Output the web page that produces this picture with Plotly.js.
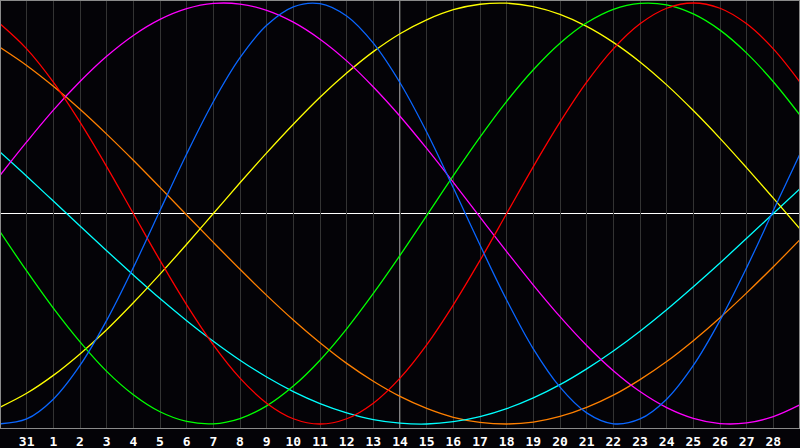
<!DOCTYPE html>
<html>
<head>
<meta charset="utf-8">
<script src="https://cdn.plot.ly/plotly-3.0.1.min.js"></script>
<style>html,body{margin:0;padding:0;background:#040307;}#chart{width:800px;height:448px;}</style>
</head>
<body>
<div id="chart"></div>
<script>
// Day index 0..30 (Jan 30 .. Mar 1)
const dayIndex = [0,1,2,3,4,5,6,7,8,9,10,11,12,13,14,15,16,17,18,19,20,21,22,23,24,25,26,27,28,29,30];
const tickPositions = [1,2,3,4,5,6,7,8,9,10,11,12,13,14,15,16,17,18,19,20,21,22,23,24,25,26,27,28,29];
const tickLabels = ['31','1','2','3','4','5','6','7','8','9','10','11','12','13','14','15','16','17','18','19','20','21','22','23','24','25','26','27','28'];
const todayIndex = 15;

const physical = [-0.999,-0.976,-0.882,-0.722,-0.508,-0.257,0.014,0.283,0.531,0.740,0.894,0.982,0.997,0.938,0.809,0.621,0.387,0.122,-0.150,-0.411,-0.643,-0.825,-0.947,-0.999,-0.976,-0.882,-0.722,-0.508,-0.257,0.014,0.283];
const emotional = [0.901,0.782,0.624,0.434,0.223,0.000,-0.223,-0.434,-0.624,-0.782,-0.901,-0.975,-1.000,-0.975,-0.901,-0.782,-0.624,-0.434,-0.223,0.000,0.223,0.434,0.624,0.782,0.901,0.975,1.000,0.975,0.901,0.782,0.624];
const intellectual = [-0.086,-0.273,-0.450,-0.610,-0.750,-0.861,-0.942,-0.988,-0.999,-0.974,-0.914,-0.820,-0.697,-0.548,-0.380,-0.199,-0.010,0.180,0.363,0.533,0.683,0.809,0.906,0.970,0.998,0.991,0.948,0.871,0.762,0.626,0.467];
const intuitive = [0.181,0.340,0.491,0.627,0.747,0.846,0.922,0.973,0.998,0.995,0.965,0.909,0.828,0.725,0.601,0.462,0.309,0.148,-0.017,-0.181,-0.340,-0.490,-0.627,-0.747,-0.846,-0.922,-0.973,-0.998,-0.995,-0.965,-0.909];
const aesthetic = [-0.920,-0.854,-0.769,-0.667,-0.552,-0.424,-0.288,-0.146,0.000,0.146,0.288,0.424,0.552,0.667,0.769,0.854,0.920,0.968,0.994,0.999,0.983,0.946,0.889,0.813,0.720,0.611,0.489,0.357,0.217,0.073,-0.073];
const awareness = [0.789,0.703,0.604,0.495,0.377,0.253,0.124,-0.007,-0.137,-0.265,-0.389,-0.506,-0.614,-0.712,-0.797,-0.869,-0.926,-0.968,-0.992,-1.000,-0.991,-0.964,-0.921,-0.863,-0.789,-0.703,-0.604,-0.495,-0.377,-0.253,-0.124];
const spiritual = [0.292,0.177,0.059,-0.059,-0.177,-0.292,-0.404,-0.509,-0.607,-0.697,-0.777,-0.846,-0.903,-0.947,-0.979,-0.996,-1.000,-0.989,-0.965,-0.927,-0.876,-0.813,-0.738,-0.653,-0.559,-0.457,-0.348,-0.235,-0.118,0.000,0.118];

const seriesNames = ['Awareness','Spiritual','Aesthetic','Intuitive','Intellectual','Emotional','Physical'];
const seriesValues = [awareness, spiritual, aesthetic, intuitive, intellectual, emotional, physical];
const seriesColors = ['#ff8000','#00ffff','#ffff00','#ff00ff','#00ff00','#ff0000','#0a66ff'];

const traces = seriesValues.map((vals, i) => ({
  x: dayIndex, y: vals, name: seriesNames[i], type: 'scatter', mode: 'lines',
  line: {color: seriesColors[i], width: 1.3, shape: 'spline', smoothing: 1},
  hoverinfo: 'skip'
}));

const layout = {
  width: 800, height: 448,
  margin: {l: 1, r: 1, t: 1, b: 20, pad: 0},
  paper_bgcolor: '#040307', plot_bgcolor: '#040307',
  showlegend: false,
  xaxis: {
    range: [0.0375, 29.9625], tickmode: 'array', tickvals: tickPositions, ticktext: tickLabels,
    showgrid: true, gridcolor: '#333333', gridwidth: 1, zeroline: false,
    showline: true, linecolor: '#8a8a8a', linewidth: 1, mirror: true,
    ticks: '', ticklabelstandoff: 1,
    tickfont: {family: 'DejaVu Sans Mono', size: 13, color: '#ffffff', weight: 'bold'},
    fixedrange: true
  },
  yaxis: {
    range: [-1.019, 1.0095], showgrid: false, zeroline: false, showticklabels: false, ticks: '',
    showline: true, linecolor: '#8a8a8a', linewidth: 1, mirror: true, fixedrange: true
  },
  shapes: [
    {type: 'line', xref: 'x', yref: 'paper', x0: todayIndex, x1: todayIndex, y0: 0, y1: 1, line: {color: '#ffffff', width: 1}, layer: 'below'},
    {type: 'line', xref: 'paper', yref: 'y', x0: 0, x1: 1, y0: 0, y1: 0, line: {color: '#ffffff', width: 1}, layer: 'below'}
  ]
};

Plotly.newPlot('chart', traces, layout, {staticPlot: true, displayModeBar: false});
</script>
</body>
</html>
